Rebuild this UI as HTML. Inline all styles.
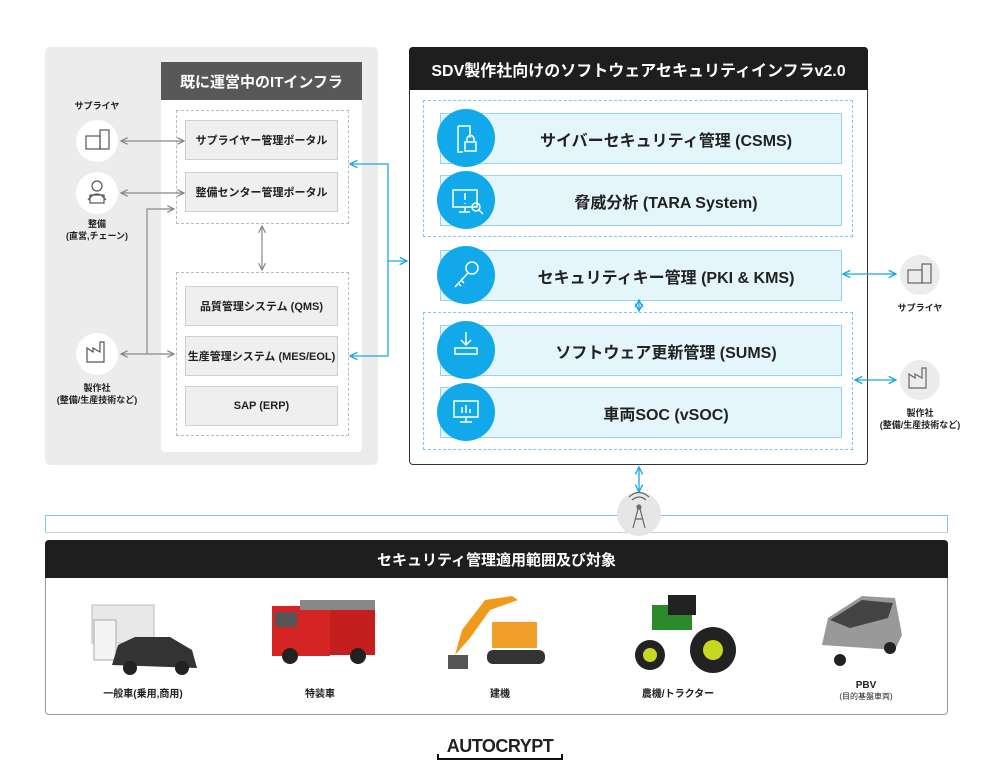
<!DOCTYPE html>
<html><head><meta charset="utf-8"><style>
*{margin:0;padding:0;box-sizing:border-box}
body{width:1000px;height:781px;background:#fff;position:relative;overflow:hidden;font-family:"Liberation Sans","Noto Sans CJK JP",sans-serif;color:#222}
.a{position:absolute}
.box{position:absolute;background:#efefef;border:1px solid #cfcfcf;font-size:11px;font-weight:bold;display:flex;align-items:center;justify-content:center;color:#222}
.bar{position:absolute;left:440px;width:402px;height:51px;background:#e5f5fc;border:1.5px solid #93d5f1;font-size:16px;font-weight:bold;display:flex;align-items:center;justify-content:center;padding-left:50px;color:#222}
.circ{position:absolute;width:58px;height:58px;border-radius:50%;background:#12a9eb;left:437px}
.lbl{position:absolute;font-size:9px;font-weight:bold;text-align:center;line-height:12px;color:#222}
.vl{position:absolute;top:685px;font-size:10px;font-weight:bold;text-align:center;width:140px}
</style></head><body>
<!-- left panel -->
<div class="a" style="left:45px;top:47px;width:333px;height:418px;background:#ececec;border-radius:5px"></div>
<div class="a" style="left:161px;top:62px;width:201px;height:38px;background:#585858;color:#fff;font-size:15px;font-weight:bold;display:flex;align-items:center;justify-content:center">既に運営中のITインフラ</div>
<div class="a" style="left:161px;top:100px;width:201px;height:352px;background:#fff;border-radius:0 0 4px 4px"></div>
<div class="a" style="left:176px;top:110px;width:173px;height:114px;border:1px dashed #bbb"></div>
<div class="a" style="left:176px;top:272px;width:173px;height:164px;border:1px dashed #bbb"></div>
<div class="box" style="left:185px;top:120px;width:153px;height:40px">サプライヤー管理ポータル</div>
<div class="box" style="left:185px;top:172px;width:153px;height:40px">整備センター管理ポータル</div>
<div class="box" style="left:185px;top:286px;width:153px;height:40px">品質管理システム (QMS)</div>
<div class="box" style="left:185px;top:336px;width:153px;height:40px">生産管理システム (MES/EOL)</div>
<div class="box" style="left:185px;top:386px;width:153px;height:40px">SAP (ERP)</div>
<div class="a" style="left:76px;top:120px;width:42px;height:42px;border-radius:50%;background:#fff"></div>
<div class="a" style="left:76px;top:172px;width:42px;height:42px;border-radius:50%;background:#fff"></div>
<div class="a" style="left:76px;top:333px;width:42px;height:42px;border-radius:50%;background:#fff"></div>
<div class="lbl" style="left:57px;top:100px;width:80px">サプライヤ</div>
<div class="lbl" style="left:47px;top:218px;width:100px">整備<br>(直営,チェーン)</div>
<div class="lbl" style="left:42px;top:382px;width:110px">製作社<br>(整備/生産技術など)</div>

<!-- right panel -->
<div class="a" style="left:409px;top:47px;width:459px;height:418px;border:1.5px solid #333;border-radius:4px;background:#fff"></div>
<div class="a" style="left:409px;top:47px;width:459px;height:43px;background:#1e1e1e;color:#fff;font-size:16px;font-weight:bold;display:flex;align-items:center;justify-content:center;border-radius:4px 4px 0 0">SDV製作社向けのソフトウェアセキュリティインフラv2.0</div>
<div class="a" style="left:423px;top:100px;width:430px;height:137px;border:1px dashed #7cc9ea"></div>
<div class="a" style="left:423px;top:312px;width:430px;height:138px;border:1px dashed #7cc9ea"></div>
<div class="bar" style="top:113px">サイバーセキュリティ管理 (CSMS)</div>
<div class="bar" style="top:175px">脅威分析 (TARA System)</div>
<div class="bar" style="top:250px">セキュリティキー管理 (PKI &amp; KMS)</div>
<div class="bar" style="top:325px">ソフトウェア更新管理 (SUMS)</div>
<div class="bar" style="top:387px">車両SOC (vSOC)</div>
<div class="circ" style="top:109px"></div>
<div class="circ" style="top:171px"></div>
<div class="circ" style="top:246px"></div>
<div class="circ" style="top:321px"></div>
<div class="circ" style="top:383px"></div>
<div class="a" style="left:900px;top:255px;width:40px;height:40px;border-radius:50%;background:#ececec"></div>
<div class="a" style="left:900px;top:360px;width:40px;height:40px;border-radius:50%;background:#ececec"></div>
<div class="lbl" style="left:880px;top:302px;width:80px">サプライヤ</div>
<div class="lbl" style="left:865px;top:407px;width:110px">製作社<br>(整備/生産技術など)</div>

<!-- bottom -->
<div class="a" style="left:45px;top:515px;width:903px;height:18px;border:1.5px solid #7cc9ea;border-bottom:1px solid #ccc"></div>
<div class="a" style="left:617px;top:492px;width:44px;height:44px;border-radius:50%;background:#e6e6e6"></div>
<div class="a" style="left:45px;top:540px;width:903px;height:175px;border:1px solid #999;border-radius:4px;background:#fff"></div>
<div class="a" style="left:45px;top:540px;width:903px;height:38px;background:#1e1e1e;color:#fff;font-size:15px;font-weight:bold;display:flex;align-items:center;justify-content:center;border-radius:4px 4px 0 0">セキュリティ管理適用範囲及び対象</div>
<div class="vl" style="left:73px">一般車(乗用,商用)</div>
<div class="vl" style="left:250px">特装車</div>
<div class="vl" style="left:430px">建機</div>
<div class="vl" style="left:608px">農機/トラクター</div>
<div class="vl" style="left:796px;top:680px">PBV<br><span style="font-size:8px;font-weight:normal">(目的基盤車両)</span></div>
<div class="a" style="left:438px;top:736px;width:124px;text-align:center;font-size:18px;font-weight:bold;letter-spacing:-0.5px">AUTOCRYPT</div>
<div class="a" style="left:437px;top:754px;width:126px;height:6px;border:2px solid #111;border-top:none"></div>

<svg class="a" style="left:0;top:0" width="1000" height="781" viewBox="0 0 1000 781" fill="none">
<defs>
<marker id="g" viewBox="0 0 10 10" refX="9" refY="5" markerWidth="7" markerHeight="7" orient="auto-start-reverse"><path d="M1 1L9 5L1 9" stroke="#888" stroke-width="1.5" fill="none"/></marker>
<marker id="b" viewBox="0 0 10 10" refX="9" refY="5" markerWidth="7" markerHeight="7" orient="auto-start-reverse"><path d="M1 1L9 5L1 9" stroke="#1aa6e4" stroke-width="1.5" fill="none"/></marker>
</defs>
<g stroke="#888" stroke-width="1.2">
<line x1="121" y1="141" x2="184" y2="141" marker-start="url(#g)" marker-end="url(#g)"/>
<line x1="121" y1="193" x2="184" y2="193" marker-start="url(#g)" marker-end="url(#g)"/>
<line x1="121" y1="354" x2="174" y2="354" marker-start="url(#g)" marker-end="url(#g)"/>
<polyline points="147,354 147,209 174,209" marker-end="url(#g)"/>
<line x1="262" y1="226" x2="262" y2="270" marker-start="url(#g)" marker-end="url(#g)"/>
</g>
<g stroke="#1aa6e4" stroke-width="1.3">
<polyline points="350,164 388,164 388,356 350,356" marker-start="url(#b)" marker-end="url(#b)"/>
<line x1="388" y1="261" x2="407" y2="261" marker-end="url(#b)"/>
<line x1="843" y1="274" x2="896" y2="274" marker-start="url(#b)" marker-end="url(#b)"/>
<line x1="855" y1="380" x2="896" y2="380" marker-start="url(#b)" marker-end="url(#b)"/>
<line x1="639" y1="300" x2="639" y2="311" marker-start="url(#b)" marker-end="url(#b)"/>
<line x1="639" y1="467" x2="639" y2="492" marker-start="url(#b)" marker-end="url(#b)"/>
</g>
<g stroke="#555" stroke-width="1.2">
<rect x="86" y="136" width="14" height="13"/><rect x="100" y="130" width="9" height="19"/>
<circle cx="97" cy="186" r="5"/><rect x="90" y="195" width="14" height="8"/><path d="M88 200 Q97 188 106 200"/>
<path d="M87 362 V348 L93 352 V348 L100 352 V342 H104 V362 Z"/>
</g>
<g stroke="#666" stroke-width="1.2">
<rect x="908" y="270" width="14" height="13"/><rect x="922" y="264" width="9" height="19"/>
<path d="M909 388 V374 L915 378 V374 L922 378 V368 H926 V388 Z"/>
<path d="M639 505 L633 528 M639 505 L645 528 M635 519 H643"/><circle cx="639" cy="507" r="2"/><path d="M632 500 Q639 494 646 500 M629 497 Q639 488 649 497"/>
</g>
<g stroke="#fff" stroke-width="1.5">
<path d="M458 126 H470 V138 M458 126 V152 H463"/><rect x="465" y="142" width="11" height="9"/><path d="M467 142 V139 A3.5 3.5 0 0 1 474 139 V142"/>
<rect x="453" y="190" width="24" height="17"/><path d="M465 193 V200 M465 203 V204 M465 207 V212 M459 212 H470"/><circle cx="476" cy="207" r="4"/><path d="M479 210 L483 214"/>
<circle cx="472" cy="268" r="6"/><path d="M468 273 L455 287 M458 283 L461 286 M461 280 L464 283"/>
<path d="M466 332 V345 M461 340 L466 345 L471 340"/><rect x="455" y="348" width="22" height="6"/>
<rect x="454" y="401" width="24" height="16"/><path d="M466 417 V422 M460 422 H472 M462 413 V407 M466 413 V405 M470 413 V409"/>
</g>
<g>
<rect x="92" y="605" width="62" height="38" fill="#e8e8e8" stroke="#bbb"/><rect x="94" y="620" width="22" height="40" fill="#f4f4f4" stroke="#aaa"/>
<path d="M112 665 L118 645 L135 637 H170 L192 650 L197 668 Z" fill="#333"/><circle cx="130" cy="668" r="7" fill="#222"/><circle cx="182" cy="668" r="7" fill="#222"/>
<rect x="272" y="606" width="58" height="50" fill="#d42424"/><rect x="275" y="612" width="22" height="15" fill="#555"/><rect x="300" y="600" width="75" height="10" fill="#888"/><rect x="330" y="610" width="45" height="45" fill="#c41e1e"/><circle cx="290" cy="656" r="8" fill="#222"/><circle cx="358" cy="656" r="8" fill="#222"/>
<path d="M455 655 L462 630 L485 600 L512 596 L518 600 L490 610 L470 638 Z" fill="#f09a1c"/><rect x="492" y="622" width="45" height="26" fill="#f0a02a"/><rect x="487" y="650" width="58" height="14" rx="6" fill="#333"/><path d="M448 655 h20 v14 h-20z" fill="#555"/>
<rect x="652" y="605" width="40" height="25" fill="#2a8a2a"/><rect x="668" y="595" width="28" height="20" fill="#222"/><circle cx="650" cy="655" r="15" fill="#222"/><circle cx="650" cy="655" r="7" fill="#c8d820"/><circle cx="713" cy="650" r="23" fill="#222"/><circle cx="713" cy="650" r="10" fill="#c8d820"/>
<path d="M822 645 L828 618 L862 596 L895 598 L902 635 L895 650 Z" fill="#999"/><path d="M830 620 L862 600 L893 603 L888 618 L850 628 Z" fill="#444"/><circle cx="840" cy="660" r="6" fill="#222"/><circle cx="890" cy="648" r="6" fill="#222"/>
</g>
</svg>
</body></html>
